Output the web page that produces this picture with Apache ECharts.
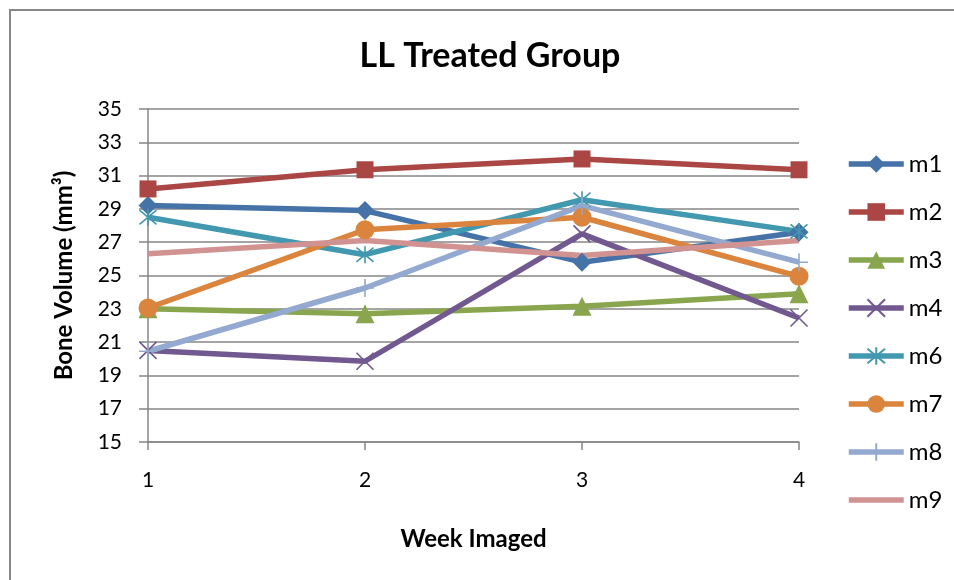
<!DOCTYPE html>
<html>
<head>
<meta charset="utf-8">
<script src="https://cdn.jsdelivr.net/npm/echarts@6/dist/echarts.min.js"></script>
<style>
  html, body { margin: 0; padding: 0; background: #fff; }
  #chart { width: 954px; height: 580px; }
</style>
</head>
<body>
<div id="chart"></div>
<script>
// Week categories and bone volume per mouse (mm³)
const weeks = ['1', '2', '3', '4'];
const yTicks = [15, 35, 2]; // min, max, step
const m1 = [29.2, 28.9, 25.8, 27.6];
const m2 = [30.2, 31.35, 32.0, 31.35];
const m3 = [23.0, 22.7, 23.15, 23.9];
const m4 = [20.5, 19.85, 27.5, 22.45];
const m6 = [28.5, 26.25, 29.55, 27.65];
const m7 = [23.05, 27.75, 28.5, 24.95];
const m8 = [20.45, 24.25, 29.2, 25.8];
const m9 = [26.3, 27.1, 26.2, 27.1];

const FONT = 'Lato';
const AXIS_GRAY = '#868686';
const LINE_W = 5.5;

// open-path markers, drawn by stroke only
const SYM_X = 'path://M0,0L10,10M10,0L0,10';
const SYM_STAR = 'path://M0,0L10,10M10,0L0,10M5,-1L5,11';
const SYM_PLUS = 'path://M5,0L5,10M0,5L10,5';

function mk(name, data, color, symbol, size, stroked) {
  return {
    name, type: 'line', data,
    symbol, symbolSize: size,
    showSymbol: symbol !== 'none',
    lineStyle: { color, width: LINE_W },
    itemStyle: stroked
      ? { color, borderColor: color, borderWidth: 1.6 }
      : { color, borderWidth: 0 },
    emphasis: { disabled: true },
    animation: false
  };
}

const series = [
  mk('m1', m1, '#4572A7', 'diamond', 19, false),
  mk('m2', m2, '#AA4643', 'rect', 17, false),
  mk('m3', m3, '#89A54E', 'triangle', 19, false),
  mk('m4', m4, '#71588F', SYM_X, 17, true),
  mk('m6', m6, '#4198AF', SYM_STAR, 17, true),
  mk('m7', m7, '#DB843D', 'circle', 19, false),
  mk('m8', m8, '#93A9CF', SYM_PLUS, 18, true),
  mk('m9', m9, '#D19392', 'none', 0, false)
];

const legendData = series.map(s =>
  s.symbol === 'none'
    ? { name: s.name, itemStyle: { opacity: 0 } }
    : { name: s.name }
);

const chart = echarts.init(document.getElementById('chart'), null, { renderer: 'canvas' });
chart.setOption({
  backgroundColor: '#ffffff',
  animation: false,
  title: {
    text: 'LL Treated Group',
    left: 485, top: 34, textAlign: 'center',
    textStyle: { fontFamily: FONT, fontWeight: 'bold', fontSize: 34, color: '#000' }
  },
  grid: { left: 148, right: 155, top: 109, bottom: 138, containLabel: false },
  legend: {
    orient: 'vertical',
    left: 846, top: 152, padding: 0,
    itemWidth: 55, itemHeight: 22, itemGap: 24,
    lineStyle: { width: LINE_W },
    textStyle: { fontFamily: FONT, fontSize: 24, color: '#000' },
    data: legendData
  },
  xAxis: {
    type: 'category', data: weeks, boundaryGap: false,
    name: 'Week Imaged', nameLocation: 'middle', nameGap: 85,
    nameTextStyle: { fontFamily: FONT, fontWeight: 'bold', fontSize: 24, color: '#000' },
    axisLine: { lineStyle: { color: AXIS_GRAY, width: 1.5 } },
    axisTick: { show: true, length: 8, inside: false, alignWithLabel: true, lineStyle: { color: AXIS_GRAY, width: 1.5 } },
    axisLabel: { fontFamily: FONT, fontSize: 21, color: '#000', margin: 28 },
    splitLine: { show: false }
  },
  yAxis: {
    type: 'value', min: yTicks[0], max: yTicks[1], interval: yTicks[2],
    name: 'Bone Volume (mm³)', nameLocation: 'middle', nameGap: 72, nameRotate: 90,
    nameTextStyle: { fontFamily: FONT, fontWeight: 'bold', fontSize: 24, color: '#000' },
    axisLine: { show: true, lineStyle: { color: AXIS_GRAY, width: 1.5 } },
    axisTick: { show: true, length: 9, lineStyle: { color: AXIS_GRAY, width: 1.5 } },
    axisLabel: { fontFamily: FONT, fontSize: 21, color: '#000', margin: 26 },
    splitLine: { show: true, lineStyle: { color: AXIS_GRAY, width: 1.5 } }
  },
  graphic: [{
    type: 'rect', silent: true,
    shape: { x: 10, y: 10, width: 1000, height: 700 },
    style: { fill: 'none', stroke: '#878787', lineWidth: 2 }
  }],
  series
});
</script>
</body>
</html>
